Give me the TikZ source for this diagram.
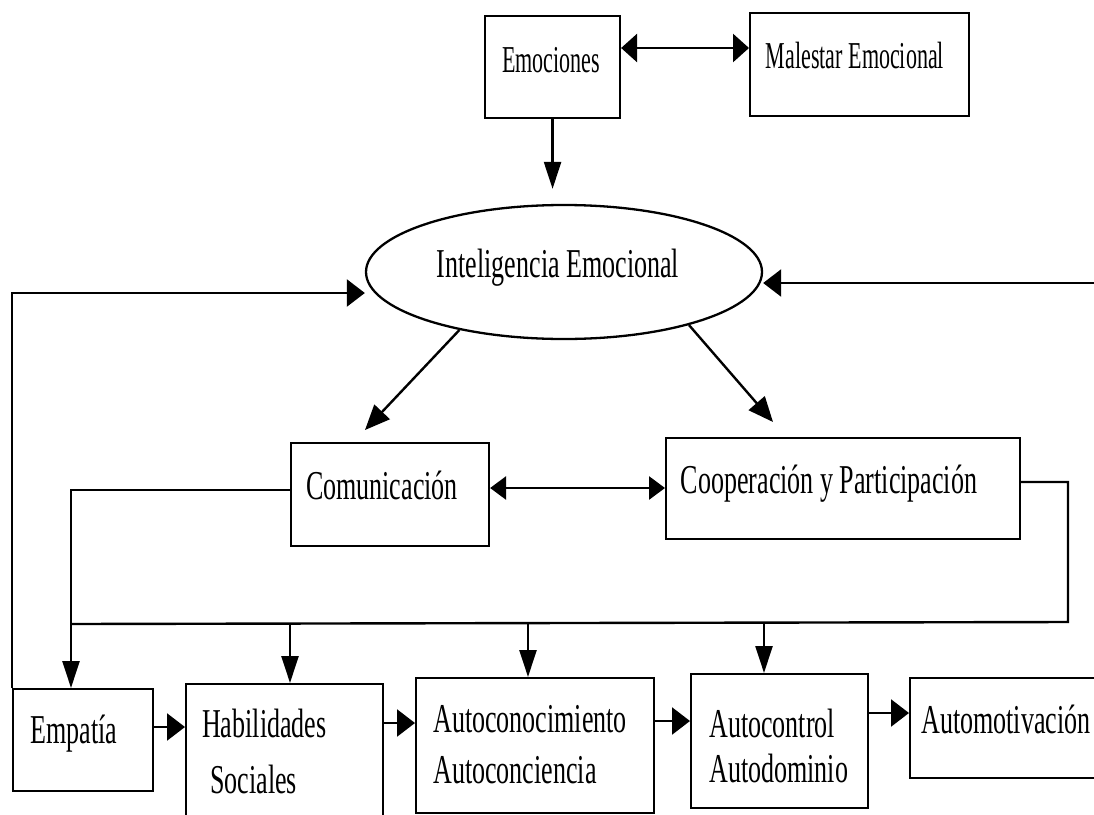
\documentclass[tikz,border=0pt]{standalone}
\usepackage{fontspec}
\setmainfont{Liberation Serif}[FakeStretch=0.635]
\newfontfamily\narrowserif{Liberation Serif}[FakeStretch=0.58]
\usetikzlibrary{arrows.meta,calc,shapes.geometric}
\tikzset{
  box/.style={draw, rectangle, line width=2.1pt, inner sep=0pt, anchor=north west},
  oval/.style={draw, ellipse, line width=2.3pt, inner sep=0pt},
  bigtxt/.style={font=\fontsize{41}{49}\selectfont, inner sep=0pt},
  smalltxt/.style={font=\narrowserif\fontsize{38}{46}\selectfont, inner sep=0pt},
  wire/.style={line width=2.4pt},
  harr/.style={wire, -{Triangle[length=18pt,width=27pt]}},
  varr/.style={wire, -{Triangle[length=27pt,width=17pt]}},
  darr/.style={wire, -{Triangle[length=25pt,width=21pt]}},
  dblarr/.style={line width=2.8pt, {Triangle[length=16pt,width=28pt]}-{Triangle[length=16pt,width=28pt]}},
  dblarrb/.style={line width=2.8pt, {Triangle[length=16pt,width=23pt]}-{Triangle[length=16pt,width=23pt]}}
}
\begin{document}
\begin{tikzpicture}[x=1pt,y=-1pt]
\useasboundingbox (0,0) rectangle (1094,814);
\clip (0,0) rectangle (1094,814);
\fill[white] (0,0) rectangle (1094,814);

% top boxes
\node[box, minimum width=135pt, minimum height=102pt] (emo) at (484,15) {};
\node[box, minimum width=219pt, minimum height=103pt] (mal) at (749,12) {};
\node[smalltxt, anchor=base] (emo-t) at (551,72) {Emociones};
\node[smalltxt, anchor=base] (mal-t) at (855,68) {Malestar Emocional};

% ellipse
\node[oval, minimum width=396pt, minimum height=134pt] (ie) at (564,272) {};
\node[bigtxt, anchor=base] (ie-t) at (558,277) {Inteligencia Emocional};

% middle boxes
\node[box, minimum width=198pt, minimum height=103pt] (com) at (290,442) {};
\node[box, minimum width=354pt, minimum height=101pt] (coop) at (665,437) {};
\node[bigtxt, anchor=base] (com-t) at (382,499) {Comunicación};
\node[bigtxt, anchor=base] (coop-t) at (829,493) {Cooperación y Participación};

% bottom boxes
\node[box, minimum width=140pt, minimum height=102pt] (emp) at (12,688) {};
\node[box, minimum width=197pt, minimum height=150pt] (hab) at (185,683) {};
\node[box, minimum width=238pt, minimum height=135pt] (auc) at (415,677) {};
\node[box, minimum width=177pt, minimum height=134pt] (act) at (690,673) {};
\node[box, minimum width=220pt, minimum height=100pt] (aum) at (909,677) {};

\node[bigtxt, anchor=base] (emp-t) at (74,743) {Empatía};
\node[bigtxt, anchor=base west] (hab-t1) at (202,737) {Habilidades};
\node[bigtxt, anchor=base west] (hab-t2) at (210,793) {Sociales};
\node[bigtxt, anchor=base west] (auc-t1) at (433,732) {Autoconocimiento};
\node[bigtxt, anchor=base west] (auc-t2) at (433,783) {Autoconciencia};
\node[bigtxt, anchor=base west] (act-t1) at (709,737) {Autocontrol};
\node[bigtxt, anchor=base west] (act-t2) at (709,782) {Autodominio};
\node[bigtxt, anchor=base west] (aum-t) at (921,733) {Automotivación};

% connectors top
\draw[dblarr] (emo.east |- 0,48) -- (mal.west |- 0,48);
\draw[varr, shorten >=15pt] (emo.south) -- (emo.south |- ie.north);

% feedback lines to ellipse
\draw[harr] (emp.north west) -- (emp.north west |- 0,293) -- (ie.west |- 0,293);
\coordinate (rin) at (1094,283);
\draw[harr] (rin) -- (ie.east |- rin);

% ellipse to middle boxes
\draw[darr] (ie.209) -- ($(com.north west)+(75,-12)$);
\draw[darr] (ie.337) -- ($(coop.north west)+(108,-15)$);
\draw[dblarrb] (com.east |- 0,488) -- (coop.west |- 0,488);

% comunicacion to empatia
\draw[varr] (com.west |- 0,490) -| ($(emp.north west)+(59,0)$);

% cooperacion bus
\coordinate (busR) at (1068,622);
\coordinate (busL) at (71,624);
\draw[wire] (coop.east |- 0,482) -| (busR) -- (busL);
\coordinate (b1) at (290,624);
\coordinate (b2) at (528,624);
\coordinate (b3) at (764,623);
\draw[varr] (b1) -- (b1 |- hab.north);
\draw[varr] (b2) -- (b2 |- auc.north);
\draw[varr] (b3) -- (b3 |- act.north);

% bottom row chain
\draw[harr] (emp.east |- 0,727) -- (hab.west |- 0,727);
\draw[harr] (hab.east |- 0,723) -- (auc.west |- 0,723);
\draw[harr] (auc.east |- 0,721) -- (act.west |- 0,721);
\draw[harr] (act.east |- 0,713) -- (aum.west |- 0,713);
\end{tikzpicture}
\end{document}
